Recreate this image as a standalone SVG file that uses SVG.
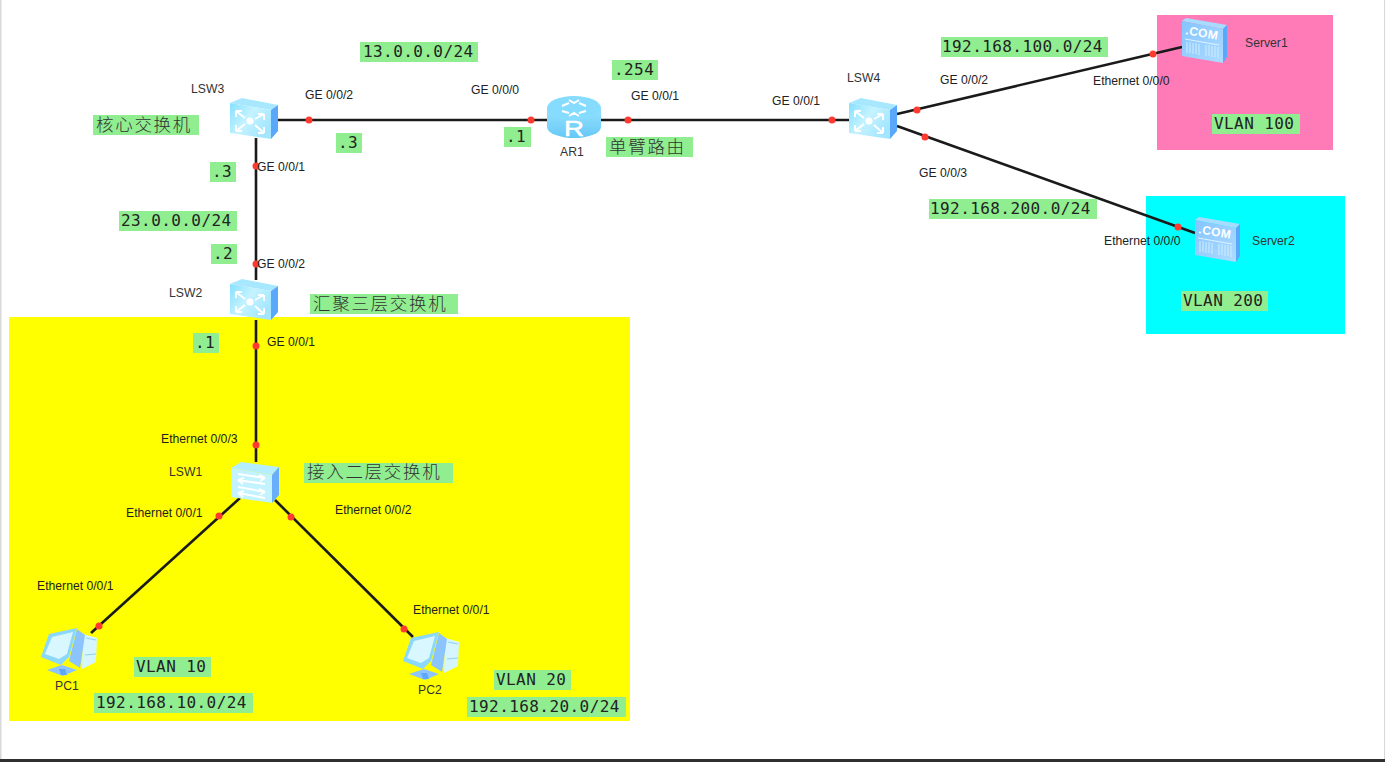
<svg xmlns="http://www.w3.org/2000/svg" width="1385" height="762" viewBox="0 0 1385 762">
  <style>
    .port { font: 12.2px "Liberation Sans", Arial, sans-serif; fill: #222; }
    .name { font: 12.2px "Liberation Sans", Arial, sans-serif; fill: #333; }
    .tag { fill: #90ee90; }
    .note { font: 16px "DejaVu Sans Mono", "Noto Sans CJK SC", monospace; letter-spacing: 0.42px; fill: #222; }
    .cjk { font: 17.5px "Noto Sans CJK SC", sans-serif; font-weight: 300; letter-spacing: 1.7px; fill: #333; }
    .link { stroke: #1a1a1a; stroke-width: 2.6; fill: none; }
    .dot { fill: #ff3b30; }
    .glyph { stroke: #fff; stroke-width: 2; fill: none; }
  </style>
  <defs>
    <linearGradient id="face" x1="0" y1="0" x2="1" y2="0.6">
      <stop offset="0" stop-color="#86e0ff"/>
      <stop offset="0.5" stop-color="#c4f3ff"/>
      <stop offset="1" stop-color="#a4e6ff"/>
    </linearGradient>
    <linearGradient id="body" x1="0" y1="0" x2="0" y2="1">
      <stop offset="0" stop-color="#96e2ff"/>
      <stop offset="1" stop-color="#66c8f6"/>
    </linearGradient>
    <linearGradient id="rack" x1="0" y1="0" x2="1" y2="1">
      <stop offset="0" stop-color="#84c4ff"/>
      <stop offset="1" stop-color="#aedcff"/>
    </linearGradient>
    <!-- Layer-3 switch: four arrows converging on a hub -->
    <g id="l3switch">
      <polygon points="0,5 12,0 48,7 41,12" fill="#a8e8ff"/>
      <polygon points="0,5 41,12 41,41 0,35" fill="url(#face)"/>
      <polygon points="41,12 48,7 48,33 41,41" fill="#5aa8fa"/>
      <circle cx="20" cy="23" r="3.600" fill="#fff"/>
      <path class="glyph" d="M6 13 L15 20 M6 13 h6 M6 13 v6 M34 16 L25 21 M34 16 h-6 M34 16 v6 M6 33 L15 26 M6 33 h6 M6 33 v-6 M34 35 L25 27 M34 35 h-6 M34 35 v-6"/>
    </g>
    <!-- Layer-2 switch: two pairs of opposed arrows -->
    <g id="l2switch">
      <polygon points="0,6 10,0 48,5 41,13" fill="#b5eeff"/>
      <polygon points="0,6 41,13 41,41 0,35" fill="#c2f3ff"/>
      <polygon points="41,13 48,5 48,33 41,41" fill="#68aefa"/>
      <path class="glyph" stroke-width="1.700" d="M7 12 L34 16 M34 16 l-6 -3 M34 16 l-5 3 M34 22 L7 18 M7 18 l6 -2 M7 18 l5 4 M7 25 L34 30 M34 30 l-6 -3 M34 30 l-5 3 M34 36 L7 31 M7 31 l6 -2 M7 31 l5 4"/>
    </g>
    <!-- Server: rack cabinet with a domain plate -->
    <g id="server">
      <polygon points="0,3 4,0 45,7 41,11" fill="#a8dcff"/>
      <polygon points="0,3 41,11 41,45 0,38" fill="url(#rack)"/>
      <polygon points="41,11 45,7 45,39 41,45" fill="#5aa8fa"/>
      <text transform="translate(3,16) rotate(10)" font-family="Liberation Sans, Arial, sans-serif" font-size="12" font-weight="700" letter-spacing="0.4" fill="#fff">.COM</text>
      <path d="M3 21 L37 27" stroke="#dff2ff" stroke-width="1"/>
      <path d="M5 24 v11 M8 24 v11 M11 25 v11 M14 25 v11 M17 26 v11 M24 27 v11 M27 27 v11 M30 28 v11 M33 28 v11 M36 29 v11" stroke="#c9e8ff" stroke-width="1.200"/>
    </g>
    <!-- Workstation: monitor and tower -->
    <g id="pc">
      <polygon points="43,6 57,10 56,34 42,41" fill="#d5f5ff"/>
      <polygon points="37,1 45,7 40,40 29,33" fill="#8cc4ff"/>
      <path d="M46 10 l10 2 M45 27 l11 -1" stroke="#8fd4f2" stroke-width="1.200" fill="none"/>
      <polygon points="7,42 22,37 37,42 23,48" fill="#8cc4ff"/>
      <polygon points="19,41 25,41 27,47 21,47" fill="#5ea6f8"/>
      <polygon points="1,29 9,6 37,0 29,29 21,37" fill="#8ad8fc"/>
      <polygon points="5,26 12,9 33,4 27,26 19,31" fill="#d8f7ff"/>
    </g>
  </defs>

  <!-- Canvas and zones -->
  <rect width="1385" height="762" fill="#fff"/>
  <rect x="0" y="0" width="1.500" height="760" fill="#d8d8d8"/>
  <rect x="1384" y="0" width="1" height="760" fill="#d8d8d8"/>
  <rect x="0" y="759" width="1385" height="3" fill="#303030"/>
  <rect id="zone-access" x="9" y="317" width="621" height="404" fill="#ffff00"/>
  <rect id="zone-vlan100" x="1157" y="15" width="176" height="135" fill="#ff7bb8"/>
  <rect id="zone-vlan200" x="1146" y="196" width="199" height="138" fill="#00ffff"/>

  <!-- Connectors and their port markers -->
  <g id="connectors">
    <path class="link" d="M278 120 H547"/>
    <path class="link" d="M601 120 H849"/>
    <path class="link" d="M256 138 V280"/>
    <path class="link" d="M256 320 V462"/>
    <path class="link" d="M240 498 L91 633"/>
    <path class="link" d="M275 500 L413 637"/>
    <path class="link" d="M897 114 L1182 47"/>
    <path class="link" d="M897 126 L1195 233"/>
    <circle class="dot" cx="309" cy="120" r="3.500"/>
    <circle class="dot" cx="531" cy="120" r="3.500"/>
    <circle class="dot" cx="628" cy="120" r="3.500"/>
    <circle class="dot" cx="832" cy="120" r="3.500"/>
    <circle class="dot" cx="256" cy="166" r="3.500"/>
    <circle class="dot" cx="256" cy="264" r="3.500"/>
    <circle class="dot" cx="256" cy="346" r="3.500"/>
    <circle class="dot" cx="256" cy="445" r="3.500"/>
    <circle class="dot" cx="219" cy="516" r="3.500"/>
    <circle class="dot" cx="99" cy="626" r="3.500"/>
    <circle class="dot" cx="291" cy="517" r="3.500"/>
    <circle class="dot" cx="404" cy="629" r="3.500"/>
    <circle class="dot" cx="917" cy="110" r="3.500"/>
    <circle class="dot" cx="1153" cy="54" r="3.500"/>
    <circle class="dot" cx="925" cy="137" r="3.500"/>
    <circle class="dot" cx="1178" cy="227" r="3.500"/>
  </g>

  <!-- Devices -->
  <g id="LSW3"><use href="#l3switch" x="230" y="98"/><text class="name" x="191" y="93">LSW3</text></g>
  <g id="LSW2"><use href="#l3switch" x="230" y="279"/><text class="name" x="169" y="297">LSW2</text></g>
  <g id="LSW4"><use href="#l3switch" x="849" y="98"/><text class="name" x="847" y="82">LSW4</text></g>
  <g id="LSW1"><use href="#l2switch" x="231" y="462"/><text class="name" x="169" y="476">LSW1</text></g>
  <g id="AR1">
    <path d="M547 108 V127 A27 11 0 0 0 601 127 V108 Z" fill="url(#body)"/>
    <ellipse cx="574" cy="108" rx="27" ry="12" fill="#86dcff"/>
    <path class="glyph" stroke-width="1.500" d="M562 106 l7 -3 M586 106 l-7 -3 M562 111 l7 2 M586 111 l-7 2 M569 100 l5 3 l5 -3 M569 116 l5 -3 l5 3"/>
    <text x="564" y="135.500" font-family="Liberation Sans, Arial, sans-serif" font-size="22" stroke="#fff" stroke-width="0.500" textLength="20" lengthAdjust="spacingAndGlyphs" fill="#fff">R</text>
    <text class="name" x="560" y="156">AR1</text>
  </g>
  <g id="Server1"><use href="#server" x="1182" y="18"/><text class="name" x="1245" y="47">Server1</text></g>
  <g id="Server2"><use href="#server" x="1195" y="217"/><text class="name" x="1252" y="245">Server2</text></g>
  <g id="PC1"><use href="#pc" x="40" y="628"/><text class="name" x="55" y="690">PC1</text></g>
  <g id="PC2"><use href="#pc" x="402" y="632"/><text class="name" x="418" y="694">PC2</text></g>

  <!-- Interface names -->
  <g id="ports">
    <text class="port" x="305" y="99">GE 0/0/2</text>
    <text class="port" x="471" y="94">GE 0/0/0</text>
    <text class="port" x="631" y="100">GE 0/0/1</text>
    <text class="port" x="772" y="105">GE 0/0/1</text>
    <text class="port" x="940" y="84">GE 0/0/2</text>
    <text class="port" x="1093" y="85">Ethernet 0/0/0</text>
    <text class="port" x="919" y="177">GE 0/0/3</text>
    <text class="port" x="1104" y="245">Ethernet 0/0/0</text>
    <text class="port" x="257" y="171">GE 0/0/1</text>
    <text class="port" x="257" y="268">GE 0/0/2</text>
    <text class="port" x="267" y="346">GE 0/0/1</text>
    <text class="port" x="161" y="443">Ethernet 0/0/3</text>
    <text class="port" x="126" y="517">Ethernet 0/0/1</text>
    <text class="port" x="335" y="514">Ethernet 0/0/2</text>
    <text class="port" x="37" y="590">Ethernet 0/0/1</text>
    <text class="port" x="413" y="614">Ethernet 0/0/1</text>
  </g>

  <!-- Addressing and role annotations -->
  <g id="notes">
    <rect class="tag" x="360" y="42" width="118" height="20"/><text class="note" x="363" y="57">13.0.0.0/24</text>
    <rect class="tag" x="612" y="60" width="46" height="20"/><text class="note" x="614" y="75">.254</text>
    <rect class="tag" x="504" y="127" width="27" height="20"/><text class="note" x="506" y="142">.1</text>
    <rect class="tag" x="336" y="133" width="26" height="20"/><text class="note" x="338" y="148">.3</text>
    <rect class="tag" x="210" y="162" width="26" height="20"/><text class="note" x="212" y="177">.3</text>
    <rect class="tag" x="119" y="211" width="118" height="20"/><text class="note" x="121" y="226">23.0.0.0/24</text>
    <rect class="tag" x="211" y="244" width="26" height="20"/><text class="note" x="213" y="259">.2</text>
    <rect class="tag" x="193" y="333" width="26" height="20"/><text class="note" x="195" y="348">.1</text>
    <rect class="tag" x="93" y="115" width="106" height="20"/><text class="cjk" x="96" y="131">核心交换机</text>
    <rect class="tag" x="310" y="294" width="148" height="20"/><text class="cjk" x="313" y="310">汇聚三层交换机</text>
    <rect class="tag" x="606" y="137" width="87" height="20"/><text class="cjk" x="609" y="153">单臂路由</text>
    <rect class="tag" x="304" y="463" width="149" height="20"/><text class="cjk" x="307" y="478">接入二层交换机</text>
    <rect class="tag" x="941" y="37" width="167" height="20"/><text class="note" x="942" y="52">192.168.100.0/24</text>
    <rect class="tag" x="929" y="199" width="168" height="20"/><text class="note" x="930" y="214">192.168.200.0/24</text>
    <rect class="tag" x="1212" y="114" width="88" height="20"/><text class="note" x="1214" y="129">VLAN 100</text>
    <rect class="tag" x="1181" y="291" width="87" height="20"/><text class="note" x="1183" y="306">VLAN 200</text>
    <rect class="tag" x="134" y="657" width="77" height="20"/><text class="note" x="136" y="672">VLAN 10</text>
    <rect class="tag" x="94" y="693" width="159" height="20"/><text class="note" x="96" y="708">192.168.10.0/24</text>
    <rect class="tag" x="494" y="670" width="77" height="20"/><text class="note" x="496" y="685">VLAN 20</text>
    <rect class="tag" x="467" y="697" width="159" height="20"/><text class="note" x="469" y="712">192.168.20.0/24</text>
  </g>
</svg>
